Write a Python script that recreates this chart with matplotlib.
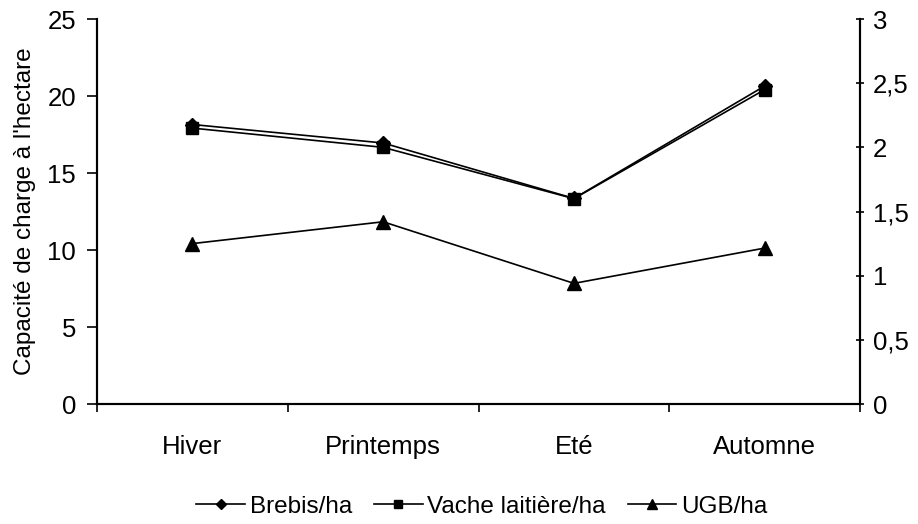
import numpy as np
import matplotlib.pyplot as plt

plt.rcParams['font.family'] = ['Liberation Sans', 'DejaVu Sans']

saisons = ["Hiver", "Printemps", "Eté", "Automne"]
brebis = [18.15, 16.95, 13.35, 20.65]      # axe gauche
vache = [2.15, 2.0, 1.6, 2.45]             # axe droit
ugb = [1.25, 1.42, 0.94, 1.215]            # axe droit

x = np.arange(len(saisons))

fig = plt.figure(figsize=(9.18, 5.24), dpi=100)
ax = fig.add_axes([0.1057, 0.229, 0.8312, 0.7347])
ax2 = ax.twinx()

l1, = ax.plot(x, brebis, color='black', lw=1.2, marker='D', ms=7, label='Brebis/ha')
l2, = ax2.plot(x, vache, color='black', lw=1.2, marker='s', ms=8, label='Vache laitière/ha')
l3, = ax2.plot(x, ugb, color='black', lw=1.2, marker='^', ms=10, label='UGB/ha')

ax.set_xlim(-0.5, len(saisons) - 0.5)
ax.set_ylim(0, 25)
ax2.set_ylim(0, 3)
ax.set_yticks(np.arange(0, 26, 5))
ax2.set_yticks(np.arange(0, 3.01, 0.5))
ax2.set_yticklabels([f"{v:g}".replace('.', ',') for v in np.arange(0, 3.01, 0.5)])

ax.set_xticks(x)
ax.set_xticklabels(saisons)
ax.set_xticks(np.arange(-0.5, len(saisons), 1), minor=True)
ax.tick_params(axis='x', which='major', length=0, pad=22, labelsize=18.5)
ax.tick_params(axis='x', which='minor', length=6, width=1.2, direction='out')
ax.tick_params(axis='y', length=7, width=1.2, direction='out', labelsize=18.5, pad=8)
ax2.tick_params(axis='y', length=6, width=1.2, direction='inout', labelsize=18.5, pad=6)

for a in (ax, ax2):
    a.spines['top'].set_visible(False)
    for s in ('left', 'right', 'bottom'):
        a.spines[s].set_linewidth(1.5)

ax.set_ylabel("Capacité de charge à l'hectare", fontsize=17.5, labelpad=8)

fig.legend(handles=[l1, l2, l3], loc='center', bbox_to_anchor=(0.525, 0.033),
           ncol=3, frameon=False, fontsize=17.5, handlelength=2.0,
           handletextpad=0.2, columnspacing=0.9, markerscale=0.75)

fig.savefig("out.png", dpi=100)
